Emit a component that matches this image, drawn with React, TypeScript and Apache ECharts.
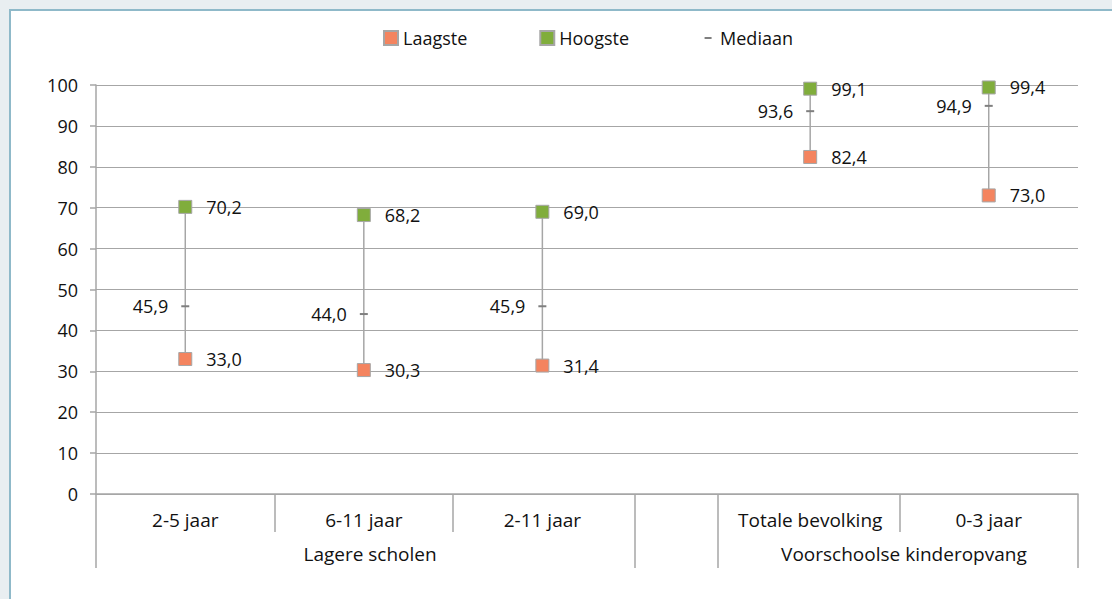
import React, { useEffect, useRef } from "react";
import * as echarts from "echarts";

const categories = ["2-5 jaar", "6-11 jaar", "2-11 jaar", "Totale bevolking", "0-3 jaar"];
const slots = [1, 3, 5, 8, 10];
const groupLabels = ["Lagere scholen", "Voorschoolse kinderopvang"];
const groupSlots = [3.07, 9.05];
const innerTicks = [2, 4, 9];
const groupTicks = [0, 6.04, 6.97, 11];
const laagste = [33.0, 30.3, 31.4, 82.4, 73.0];
const hoogste = [70.2, 68.2, 69.0, 99.1, 99.4];
const mediaan = [45.9, 44.0, 45.9, 93.6, 94.9];

const FONT = "'Open Sans', sans-serif";
const TXT = "#111111";
const GRAY = "#a6a6a6";

const fmt = (v: number) => v.toFixed(1).replace(".", ",");

export default function App() {
  const ref = useRef<HTMLDivElement>(null);
  useEffect(() => {
    if (!ref.current) return;
    const chart = echarts.init(ref.current, null, { renderer: "svg" });
    const rangeData = slots.map((s, i) => [s, laagste[i], hoogste[i]]);
    const valueLabel = (position: string, distance: number) => ({
      show: true,
      position,
      distance,
      formatter: (p: any) => fmt(p.value[1]),
      fontSize: 18,
      color: TXT,
      fontFamily: FONT,
    });
    const option: any = {
      animation: false,
      textStyle: { fontFamily: FONT },
      legend: {
        left: 383,
        top: 29,
        padding: 0,
        itemWidth: 14,
        itemHeight: 14,
        itemGap: 72,
        textStyle: { fontSize: 18, color: TXT, fontFamily: FONT },
        data: [
          { name: "Laagste", icon: "rect" },
          { name: "Hoogste", icon: "rect" },
          {
            name: "Mediaan",
            icon: "path://M0,0L14,0L14,0.01L0,0.01ZM0,13.99L14,13.99L14,14L0,14ZM3.5,6H10.5V8H3.5Z",
            itemStyle: { borderWidth: 0 },
          },
        ],
      },
      grid: { left: 96, right: 34, top: 85, bottom: 105, containLabel: false },
      xAxis: [
        {
          type: "value",
          min: 0,
          max: 11,
          position: "bottom",
          axisLine: { show: true, onZero: false, lineStyle: { color: GRAY, width: 1.5 } },
          axisTick: { show: true, customValues: innerTicks, length: 38, lineStyle: { color: GRAY, width: 1.5 } },
          axisLabel: {
            show: true,
            customValues: slots,
            formatter: (v: number) => categories[slots.indexOf(v)] ?? "",
            margin: 16,
            fontSize: 19,
            color: TXT,
            fontFamily: FONT,
          },
          splitLine: { show: false },
        },
        {
          type: "value",
          min: 0,
          max: 11,
          position: "bottom",
          axisLine: { show: false },
          axisTick: { show: true, customValues: groupTicks, length: 74, lineStyle: { color: GRAY, width: 1.5 } },
          axisLabel: {
            show: true,
            customValues: groupSlots,
            formatter: (v: number) => groupLabels[groupSlots.indexOf(v)] ?? "",
            margin: 50,
            fontSize: 19,
            color: TXT,
            fontFamily: FONT,
          },
          splitLine: { show: false },
        },
      ],
      yAxis: {
        type: "value",
        min: 0,
        max: 100,
        interval: 10,
        axisLine: { show: true, lineStyle: { color: GRAY, width: 1.5 } },
        axisTick: { show: true, length: 6, lineStyle: { color: GRAY, width: 1.5 } },
        axisLabel: { margin: 18, fontSize: 18, color: TXT, fontFamily: FONT },
        splitLine: { show: true, lineStyle: { color: GRAY, width: 1 } },
      },
      series: [
        {
          type: "custom",
          name: "range",
          xAxisIndex: 0,
          encode: { x: 0, y: [1, 2] },
          data: rangeData,
          z: 1,
          renderItem: (params: any, api: any) => {
            const x = api.value(0);
            const lo = api.coord([x, api.value(1)]);
            const hi = api.coord([x, api.value(2)]);
            return {
              type: "line",
              shape: { x1: lo[0], y1: lo[1], x2: hi[0], y2: hi[1] },
              style: { stroke: GRAY, lineWidth: 1.5 },
            };
          },
        },
        {
          type: "scatter",
          name: "Mediaan",
          xAxisIndex: 0,
          symbol: "rect",
          symbolSize: [8, 2],
          itemStyle: { color: "#7f7f7f", opacity: 1 },
          z: 3,
          data: slots.map((s, i) => [s, mediaan[i]]),
          label: valueLabel("left", 13),
        },
        {
          type: "scatter",
          name: "Laagste",
          xAxisIndex: 0,
          symbol: "rect",
          symbolSize: 13,
          itemStyle: { color: "#f4845f", borderColor: GRAY, borderWidth: 1, opacity: 1 },
          z: 4,
          data: slots.map((s, i) => [s, laagste[i]]),
          label: valueLabel("right", 14),
        },
        {
          type: "scatter",
          name: "Hoogste",
          xAxisIndex: 0,
          symbol: "rect",
          symbolSize: 13,
          itemStyle: { color: "#80ad3c", borderColor: GRAY, borderWidth: 1, opacity: 1 },
          z: 4,
          data: slots.map((s, i) => [s, hoogste[i]]),
          label: valueLabel("right", 14),
        },
      ],
    };
    chart.setOption(option);
    return () => chart.dispose();
  }, []);

  return (
    <div style={{ position: "fixed", left: 0, top: 0, width: 1112, height: 599, background: "#e9eef1", overflow: "hidden" }}>
      <div
        style={{
          position: "absolute",
          left: 9,
          top: 9,
          width: 1200,
          height: 700,
          background: "#ffffff",
          borderLeft: "2px solid #8fb9c9",
          borderTop: "2px solid #8fb9c9",
        }}
      />
      <div ref={ref} style={{ position: "absolute", left: 0, top: 0, width: 1112, height: 599 }} />
    </div>
  );
}
